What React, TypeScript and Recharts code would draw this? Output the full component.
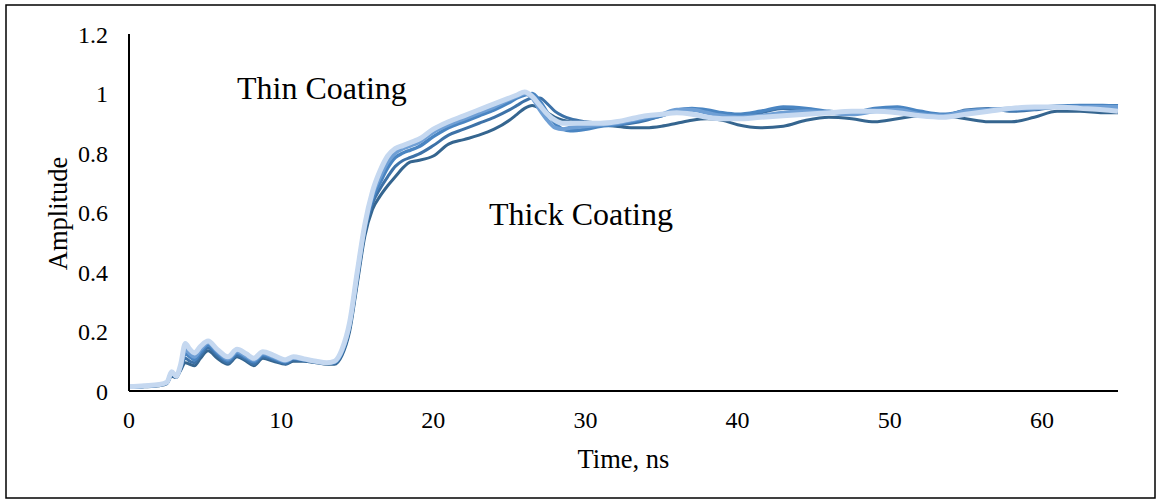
import { LineChart, Line, XAxis, YAxis } from 'recharts';

// time axis in ns
const TIME = [
  0, 1, 2, 2.5, 2.8, 3.1, 3.4, 3.7, 4.0, 4.3, 4.7, 5.2, 5.8, 6.5, 7.1, 7.7, 8.2, 8.8, 9.5, 10.3,
  10.8, 11.5, 12.3, 13.0, 13.5, 14.0, 14.5, 15.0, 15.5, 16.0, 16.5, 17.0, 17.5, 18.0, 18.5, 19, 20, 21, 22, 23,
  24, 25, 25.5, 26, 26.5, 27, 27.5, 28, 28.5, 29, 30, 31, 32, 33, 34, 35, 36, 37, 38, 39,
  40, 41.5, 43, 44.5, 46, 47.5, 49, 50.5, 52, 53.5, 55, 56.5, 58, 59.5, 61, 62.5, 64, 65,
];

// darkest trace (thick coating)
const S1 = [
  0.012, 0.014, 0.018, 0.025, 0.05, 0.045, 0.07, 0.095, 0.09, 0.085, 0.11, 0.135, 0.11, 0.09, 0.115, 0.1, 0.085, 0.11, 0.1, 0.09,
  0.1, 0.1, 0.095, 0.09, 0.09, 0.12, 0.2, 0.36, 0.52, 0.61, 0.655, 0.69, 0.72, 0.75, 0.77, 0.775, 0.79, 0.83, 0.845, 0.86,
  0.88, 0.91, 0.93, 0.95, 0.96, 0.95, 0.935, 0.92, 0.91, 0.905, 0.9, 0.895, 0.89, 0.885, 0.885, 0.89, 0.9, 0.91, 0.915, 0.91,
  0.895, 0.885, 0.89, 0.91, 0.92, 0.915, 0.905, 0.915, 0.925, 0.925, 0.915, 0.905, 0.905, 0.92, 0.94, 0.94, 0.935, 0.935,
];
const S2 = [
  0.013, 0.015, 0.02, 0.027, 0.055, 0.047, 0.075, 0.11, 0.1, 0.095, 0.12, 0.145, 0.12, 0.095, 0.12, 0.105, 0.09, 0.115, 0.105, 0.092,
  0.105, 0.102, 0.097, 0.092, 0.093, 0.125, 0.21, 0.37, 0.535, 0.63, 0.68, 0.72, 0.755, 0.775, 0.785, 0.795, 0.825, 0.86, 0.88, 0.9,
  0.92, 0.945, 0.96, 0.975, 0.985, 0.985, 0.965, 0.94, 0.925, 0.915, 0.905, 0.9, 0.895, 0.9, 0.91, 0.925, 0.94, 0.945, 0.94, 0.93,
  0.925, 0.935, 0.95, 0.945, 0.935, 0.93, 0.945, 0.95, 0.935, 0.925, 0.945, 0.95, 0.94, 0.945, 0.955, 0.958, 0.96, 0.96,
];
const S3 = [
  0.014, 0.016, 0.021, 0.028, 0.06, 0.048, 0.08, 0.125, 0.115, 0.105, 0.13, 0.155, 0.128, 0.102, 0.128, 0.112, 0.098, 0.122, 0.11, 0.098,
  0.11, 0.105, 0.098, 0.093, 0.096, 0.13, 0.22, 0.385, 0.545, 0.645, 0.7, 0.75, 0.785, 0.8, 0.81, 0.82, 0.855, 0.885, 0.905, 0.925,
  0.945, 0.97, 0.985, 0.995, 1.0, 0.975, 0.935, 0.9, 0.88, 0.875, 0.88, 0.89, 0.895, 0.905, 0.915, 0.925, 0.945, 0.95, 0.945, 0.935,
  0.93, 0.94, 0.955, 0.95, 0.94, 0.935, 0.95, 0.955, 0.94, 0.93, 0.94, 0.945, 0.945, 0.95, 0.958, 0.96, 0.96, 0.958,
];
const S4 = [
  0.015, 0.017, 0.021, 0.029, 0.063, 0.049, 0.085, 0.14, 0.125, 0.115, 0.14, 0.162, 0.135, 0.108, 0.134, 0.118, 0.104, 0.127, 0.115, 0.1,
  0.112, 0.106, 0.099, 0.094, 0.098, 0.135, 0.225, 0.395, 0.555, 0.66, 0.72, 0.77, 0.8, 0.815, 0.825, 0.835, 0.87, 0.895, 0.915, 0.935,
  0.955, 0.98, 0.99, 1.0, 0.985, 0.945, 0.91, 0.885, 0.88, 0.885, 0.89, 0.895, 0.9, 0.91, 0.92, 0.93, 0.945, 0.945, 0.935, 0.925,
  0.92, 0.925, 0.935, 0.94, 0.935, 0.93, 0.94, 0.945, 0.93, 0.925, 0.94, 0.945, 0.95, 0.95, 0.955, 0.955, 0.955, 0.955,
];
// lightest trace (thin coating)
const S5 = [
  0.015, 0.018, 0.022, 0.03, 0.065, 0.05, 0.09, 0.16, 0.14, 0.128, 0.15, 0.168, 0.14, 0.115, 0.14, 0.125, 0.11, 0.132, 0.12, 0.105,
  0.115, 0.108, 0.1, 0.095, 0.1, 0.14, 0.23, 0.4, 0.56, 0.67, 0.74, 0.79, 0.815, 0.825, 0.835, 0.845, 0.88, 0.905, 0.925, 0.945,
  0.965, 0.985, 0.995, 1.005, 0.99, 0.96, 0.93, 0.91, 0.9, 0.9, 0.9, 0.9, 0.905, 0.915, 0.925, 0.93, 0.935, 0.93, 0.92, 0.915,
  0.915, 0.92, 0.925, 0.93, 0.935, 0.94, 0.94, 0.935, 0.925, 0.92, 0.93, 0.94, 0.95, 0.955, 0.955, 0.95, 0.945, 0.94,
];

const X_TICKS = [0, 10, 20, 30, 40, 50, 60];
const Y_TICKS = [0, 0.2, 0.4, 0.6, 0.8, 1, 1.2];

const SERIES = [
  { key: 's1', values: S1, color: '#35658f', width: 3 },
  { key: 's2', values: S2, color: '#3d72a8', width: 3 },
  { key: 's3', values: S3, color: '#4a85c2', width: 3.5 },
  { key: 's4', values: S4, color: '#6f9fd5', width: 4 },
  { key: 's5', values: S5, color: '#c5d8f0', width: 5 },
];

const FONT = '"Liberation Serif", "Times New Roman", serif';

const data = TIME.map((t, i) => {
  const row: Record<string, number> = { t };
  SERIES.forEach((s) => {
    row[s.key] = s.values[i]!;
  });
  return row;
});

export default function App() {
  return (
    <div
      style={{
        position: 'absolute',
        left: 0,
        top: 0,
        width: 1157,
        height: 500,
        background: '#fff',
        fontFamily: FONT,
      }}
    >
      <LineChart
        width={1157}
        height={500}
        data={data}
        margin={{ top: 34, right: 39, bottom: 79, left: 0 }}
      >
        <XAxis
          dataKey="t"
          type="number"
          domain={[0, 65]}
          ticks={X_TICKS}
          tickLine={false}
          tickSize={0}
          tickMargin={20}
          height={30}
          axisLine={{ stroke: '#000', strokeWidth: 2 }}
          tick={{ fontSize: 24, fill: '#000', fontFamily: FONT }}
          interval={0}
        />
        <YAxis
          type="number"
          domain={[0, 1.2]}
          ticks={Y_TICKS}
          tickLine={false}
          tickSize={0}
          tickMargin={21}
          width={129}
          axisLine={{ stroke: '#000', strokeWidth: 2 }}
          tick={{ fontSize: 24, fill: '#000', fontFamily: FONT }}
          interval={0}
        />
        {SERIES.map((s) => (
          <Line
            key={s.key}
            dataKey={s.key}
            type="monotone"
            stroke={s.color}
            strokeWidth={s.width}
            dot={false}
            activeDot={false}
            isAnimationActive={false}
          />
        ))}
      </LineChart>

      {/* titles and annotations */}
      <svg
        width={1157}
        height={500}
        style={{ position: 'absolute', left: 0, top: 0, pointerEvents: 'none' }}
      >
        <rect x={6} y={5} width={1149} height={493} fill="none" stroke="#000" strokeWidth={1.5} />
        <text x={237} y={99} fontSize={32} fontFamily={FONT} fill="#000">
          Thin Coating
        </text>
        <text x={489} y={225} fontSize={32} fontFamily={FONT} fill="#000">
          Thick Coating
        </text>
        <text x={623.5} y={468} fontSize={26.5} fontFamily={FONT} fill="#000" textAnchor="middle">
          Time, ns
        </text>
        <text
          x={67}
          y={213.5}
          fontSize={26.5}
          fontFamily={FONT}
          fill="#000"
          textAnchor="middle"
          transform="rotate(-90 67 213.5)"
        >
          Amplitude
        </text>
      </svg>
    </div>
  );
}
